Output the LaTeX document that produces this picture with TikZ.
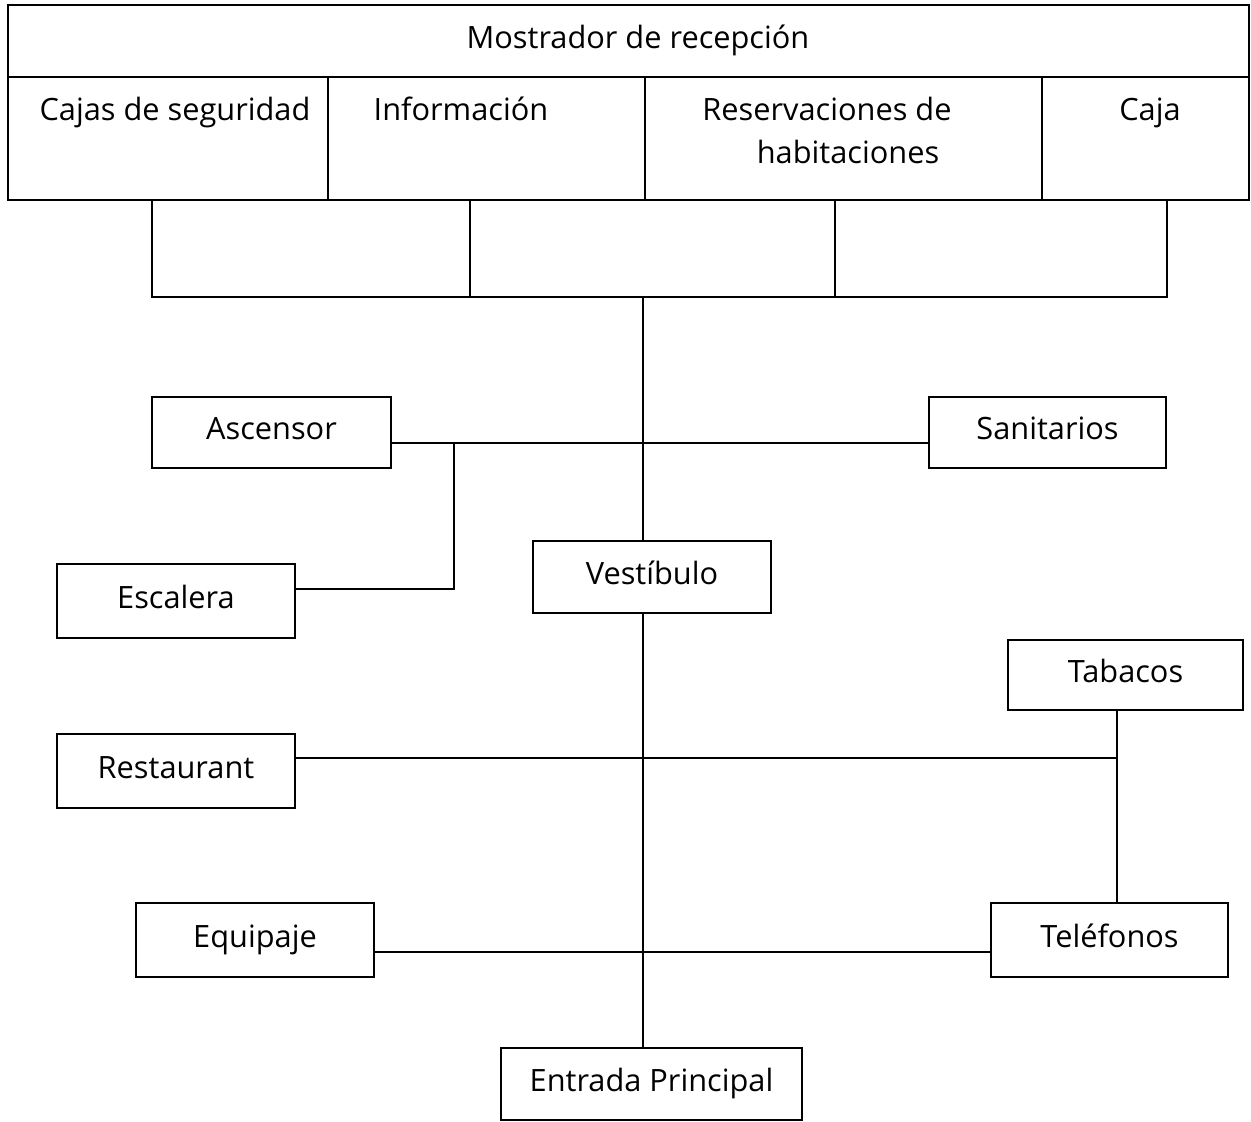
\documentclass[tikz,border=0pt]{standalone}
\usepackage{fontspec}
\setmainfont{Open Sans}
\begin{document}
\begin{tikzpicture}[x=0.02cm,y=-0.02cm, line width=1.1pt,
  box/.style={draw, rectangle, inner sep=0pt, font=\fontsize{17.5}{21}\selectfont, text height=12.5pt, text depth=4pt},
  txt/.style={inner sep=0pt, font=\fontsize{17.5}{21}\selectfont, text height=12.5pt, text depth=4pt},
  conn/.style={draw, line width=1.1pt}]
\useasboundingbox (0,0) rectangle (1251,1122);
% top counter
\node[box, minimum width=24.82cm, minimum height=1.44cm] (most) at (628.5,41) {};
\node[txt] (tmost) at (638,41) {Mostrador de recepción};
\node[box, minimum width=6.4cm, minimum height=2.46cm] (cajas) at (168,138.5) {};
\node[box, minimum width=6.34cm, minimum height=2.46cm] (info) at (486.5,138.5) {};
\node[box, minimum width=7.94cm, minimum height=2.46cm] (reserv) at (843.5,138.5) {};
\node[box, minimum width=4.14cm, minimum height=2.46cm] (caja) at (1145.5,138.5) {};
\node[txt] (tcajas) at (175,113) {Cajas de seguridad};
\node[txt] (tinfo) at (461,113) {Información};
\node[txt] (tres1) at (827,113) {Reservaciones de};
\node[txt] (tres2) at (848,156) {habitaciones};
\node[txt] (tcaja) at (1150,113) {Caja};
% boxes
\node[box, minimum width=4.78cm, minimum height=1.42cm] (asc) at (271.5,432.5) {Ascensor};
\node[box, minimum width=4.74cm, minimum height=1.42cm] (san) at (1047.5,432.5) {Sanitarios};
\node[box, minimum width=4.76cm, minimum height=1.48cm] (esc) at (176,601) {Escalera};
\node[box, minimum width=4.76cm, minimum height=1.44cm] (vest) at (652,577) {Vestíbulo};
\node[box, minimum width=4.70cm, minimum height=1.40cm] (tab) at (1125.5,675) {Tabacos};
\node[box, minimum width=4.76cm, minimum height=1.48cm] (rest) at (176,771) {Restaurant};
\node[box, minimum width=4.76cm, minimum height=1.48cm] (equi) at (255,940) {Equipaje};
\node[box, minimum width=4.74cm, minimum height=1.48cm] (tel) at (1109.5,940) {Teléfonos};
\node[box, minimum width=6.02cm, minimum height=1.44cm] (ent) at (651.5,1084) {Entrada Principal};
% coordinates
\coordinate (b1) at (152,297);
\coordinate (b2) at (470,297);
\coordinate (b3) at (835,297);
\coordinate (b4) at (1167,297);
\coordinate (sp) at (643,297);
\coordinate (h1) at (454,443);
\coordinate (e1) at (454,589);
\coordinate (r1) at (1117,758);
\coordinate (q1) at (643,952);
% connectors
\draw[conn] (b1 |- cajas.south) -- (b1) -- (b4) -- (b4 |- caja.south);
\draw[conn] (b2 |- info.south) -- (b2);
\draw[conn] (b3 |- reserv.south) -- (b3);
\draw[conn] (sp) -- (sp |- vest.north);
\draw[conn] (vest.south -| sp) -- (sp |- ent.north);
\draw[conn] (h1 -| asc.east) -- (h1 -| san.west);
\draw[conn] (h1) -- (e1) -- (e1 -| esc.east);
\draw[conn] (r1 -| rest.east) -- (r1);
\draw[conn] (tab.south -| r1) -- (tel.north -| r1);
\draw[conn] (q1 -| equi.east) -- (q1 -| tel.west);
\end{tikzpicture}
\end{document}
